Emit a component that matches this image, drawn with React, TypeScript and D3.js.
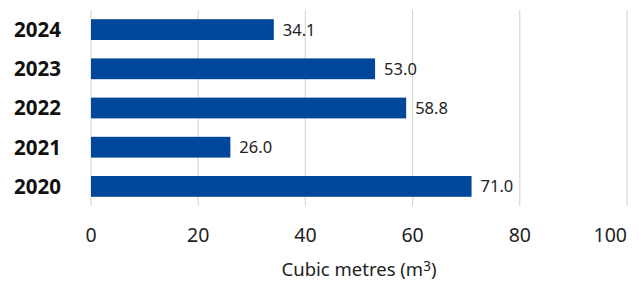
import React from "react";
import * as d3 from "d3";

const categories = ["2024", "2023", "2022", "2021", "2020"];
const values = [34.1, 53.0, 58.8, 26.0, 71.0];
const xTicks = [0, 20, 40, 60, 80, 100];
const axisTitle = "Cubic metres (m";
const axisTitleSup = "3";

const W = 639;
const H = 282;
const FONT = "'Noto Sans', 'Open Sans', sans-serif";

export default function App() {
  const x = d3.scaleLinear().domain([0, 100]).range([91, 627]);
  const y = d3.scaleBand().domain(categories).range([10, 206]).paddingInner(0.47).paddingOuter(0.235);
  return (
    <svg width={W} height={H} style={{ position: "absolute", left: 0, top: 0, display: "block" }}>
      <rect width={W} height={H} fill="#fff" />
      {xTicks.map((t) => (
        <line key={"g" + t} x1={x(t)} x2={x(t)} y1={10} y2={206} stroke="#d9d9d9" strokeWidth={1.2} />
      ))}
      {categories.map((c, i) => (
        <g key={c}>
          <rect x={x(0)} y={y(c)} width={x(values[i]) - x(0)} height={y.bandwidth()} fill="#00479b" />
          <text x={x(values[i]) + 9} y={y(c)! + y.bandwidth() / 2} dy="0.36em" fontFamily={FONT} fontSize={16.5} fill="#222">
            {values[i].toFixed(1)}
          </text>
          <text x={61} y={y(c)! + y.bandwidth() / 2} dy="0.36em" textAnchor="end" fontFamily={FONT} fontSize={20.5} fontWeight="bold" fill="#111">
            {c}
          </text>
        </g>
      ))}
      {xTicks.map((t, i) => (
        <text key={"t" + t} x={x(t)} y={242} textAnchor={i === xTicks.length - 1 ? "end" : "middle"} fontFamily={FONT} fontSize={19.5} fill="#222">
          {t}
        </text>
      ))}
      <text x={(x(0) + x(100)) / 2} y={276} textAnchor="middle" fontFamily={FONT} fontSize={18.5} fill="#222">
        {axisTitle}
        <tspan fontSize={13.5} dy={-5}>{axisTitleSup}</tspan>
        <tspan dy={5}>)</tspan>
      </text>
    </svg>
  );
}
